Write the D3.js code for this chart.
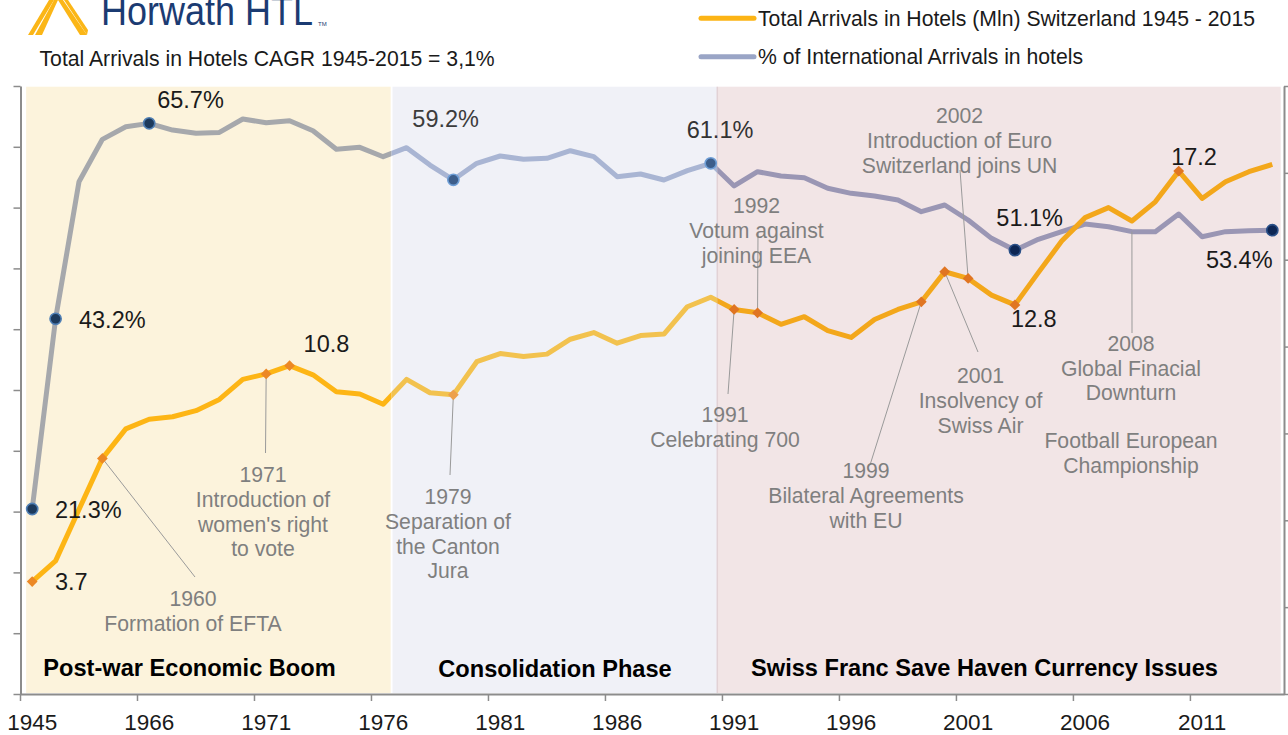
<!DOCTYPE html>
<html><head><meta charset="utf-8">
<script src="https://cdn.jsdelivr.net/npm/d3@7"></script>
<style>
body{margin:0;background:#fff;}
svg{display:block;font-family:"Liberation Sans",Arial,sans-serif;}
</style>
</head><body>
<svg id="chart" width="1288" height="735"></svg>
<script>
// ---------------- DATA ----------------
const years = [1945,1950,1955,1960,1965,1966,1967,1968,1969,1970,1971,1972,1973,1974,1975,1976,1977,1978,1979,1980,
  1981,1982,1983,1984,1985,1986,1987,1988,1989,1990,1991,1992,1993,1994,1995,1996,1997,1998,1999,2000,
  2001,2002,2003,2004,2005,2006,2007,2008,2009,2010,2011,2012,2013,2014];
// Total arrivals in hotels (Mln)
const arrivals = [3.7,4.38,6.07,7.75,8.72,9.04,9.12,9.32,9.69,10.35,10.53,10.8,10.5,9.94,9.87,9.53,10.35,9.91,9.84,10.93,
  11.2,11.1,11.18,11.67,11.89,11.54,11.79,11.84,12.74,13.05,12.65,12.54,12.16,12.41,11.95,11.73,12.32,12.65,12.9,13.89,
  13.67,13.12,12.8,13.86,14.9,15.67,16.0,15.56,16.19,17.2,16.3,16.85,17.18,17.42];
// % of international arrivals in hotels
const intlShare = [21.3,43.2,58.98,63.86,65.3,65.7,64.93,64.55,64.66,66.2,65.77,66.0,64.85,62.71,62.94,61.86,62.9,60.9,59.2,61.1,
  61.94,61.56,61.67,62.55,61.86,59.56,59.87,59.18,60.25,61.1,58.49,60.13,59.64,59.44,58.22,57.64,57.33,56.87,55.53,56.3,
  54.57,52.46,51.1,52.35,53.23,54.1,53.8,53.23,53.23,55.26,52.65,53.23,53.34,53.4];

const xTickLabels = ["1945","1966","1971","1976","1981","1986","1991","1996","2001","2006","2011"];
const leftTickValues = [0,7,14,21,28,35,42,49,56,63,70];
const rightDivisions = [0,1,2,3,4,5,6,7];

const arrivalMarkerYears = [1945,1960,1971,1972,1979,1991,1992,1999,2000,2001,2003,2010];
const shareMarkerYears = [1945,1950,1966,1979,1990,2003,2014];
const arrivalLabelYears = [1945,1972,2003,2010];
const shareLabelYears = [1945,1950,1966,1979,1990,2003,2014];

const phaseNames = ["Post-war Economic Boom","Consolidation Phase","Swiss Franc Save Haven Currency Issues"];
// phase extents in category-step units
const phaseFrom = [0.24,15.9,29.78];
const phaseTo = [15.82,29.78,53.86];

const eventTexts = [
  ["1960","Formation of EFTA"],
  ["1971","Introduction of","women's right","to vote"],
  ["1979","Separation of","the Canton","Jura"],
  ["1991","Celebrating 700"],
  ["1992","Votum against","joining EEA"],
  ["1999","Bilateral Agreements","with EU"],
  ["2001","Insolvency of","Swiss Air"],
  ["2002","Introduction of Euro","Switzerland joins UN"],
  ["2008","Global Finacial","Downturn"],
  ["Football European","Championship"]
];
const eventAnchorSeries = ["a","a","a","a","a","a","a","a","s",null];
const eventAnchorYears = [1960,1971,1979,1991,1992,1999,2000,2001,2008,null];

const legendLabels = ["Total Arrivals in Hotels (Mln) Switzerland 1945 - 2015","% of International Arrivals in hotels"];
const subtitle = "Total Arrivals in Hotels CAGR 1945-2015 = 3,1%";

// ---------------- LAYOUT / STYLE ----------------
const W = 1288, H = 735;
const plot = {left:20.5, right:1284, top:86, bottom:694};
const yellowByPhase = ["#fdb515","#f2c24f","#f3a71b"];
const blueByPhase = ["#a6a8ac","#a9b5d3","#9a96b4"];
const phaseFill = ["#fcf3dc","#f0f1f7","#f2e5e6"];
const diamondFill = ["#ec8825","#eda04c","#e07522"];
const dotFill = ["#1d3a5c","#3d5e8b","#0d2654"];
const dotStroke = ["#4f7fb5","#6e9ed6","#2b5088"];
const annColor = "#7f7f7f";

// event layout: leader end [x,y], text center x, first line y
const eventLayout = [
  {end:[195,577], tx:193, ty:599},
  {end:[265.5,453], tx:263, ty:475},
  {end:[450,475], tx:448, ty:497},
  {end:[728,394], tx:725, ty:415},
  {end:[758,233], tx:756.5, ty:206},
  {end:[870,465], tx:866, ty:471},
  {end:[978,352], tx:980.5, ty:376},
  {end:[960,170], tx:959.5, ty:116},
  {end:[1132,333], tx:1131, ty:343.5},
  {end:null, tx:1131, ty:441}
];
const lineH = 24.6;
// data label offsets from point
const arrivalLabelOffset = {1945:[22.8,0.3],1972:[14,-22.4],2003:[-4,13.4],2010:[-7.5,-14]};
const shareLabelOffset = {1945:[22.8,0.7],1950:[23.4,0.7],1966:[8,-24],1979:[-41,-60.7],1990:[-24,-33.3],2003:[-18.6,-32.8],2014:[-66.4,29.8]};
const shareLabelColor = {1979:"#3c3c3c",1990:"#333"};

// ---------------- SCALES ----------------
const svg = d3.select("#chart");
const x = d3.scaleBand().domain(years.map(String)).range([plot.left, plot.right]).padding(0);
const cx = yr => x(String(yr)) + x.bandwidth()/2;
const yL = d3.scaleLinear().domain([0,70]).range([plot.bottom, plot.top]);
const yR = d3.scaleLinear().domain([0,20]).range([plot.bottom, plot.top]);
const yRgrid = d3.scaleLinear().domain([0,7]).range([plot.bottom, plot.top]);
const stepX = u => plot.left + u * x.step();

svg.append("rect").attr("width",W).attr("height",H).attr("fill","#fff");

// phase backgrounds
const phases = phaseNames.map((n,i)=>({name:n, x0:stepX(phaseFrom[i]), x1:stepX(phaseTo[i])}));
svg.append("g").selectAll("rect").data(phases).join("rect")
  .attr("x",d=>d.x0).attr("y",plot.top+0.7).attr("width",d=>d.x1-d.x0).attr("height",plot.bottom-plot.top-1.7)
  .attr("fill",(d,i)=>phaseFill[i]);
svg.append("line").attr("x1",phases[2].x0).attr("x2",phases[2].x0).attr("y1",plot.top+0.7).attr("y2",plot.bottom-1)
  .attr("stroke","#e2d2d5").attr("stroke-width",1.5);

// clip regions
const bounds = [0,(phases[0].x1+phases[1].x0)/2, phases[2].x0, W];
const defs = svg.append("defs");
phases.forEach((p,i)=>{
  defs.append("clipPath").attr("id","clip"+i).append("rect")
    .attr("x",bounds[i]).attr("y",0).attr("width",bounds[i+1]-bounds[i]).attr("height",H);
});
const phaseOf = px => px < bounds[1] ? 0 : (px < bounds[2] ? 1 : 2);

// ---------------- AXES ----------------
const axisColor = "#8c8c8c";
const gL = svg.append("g").attr("transform",`translate(${plot.left},0)`)
  .call(d3.axisLeft(yL).tickValues(leftTickValues).tickFormat("").tickSize(7).tickSizeOuter(0));
const gR = svg.append("g").attr("transform",`translate(${plot.right},0)`)
  .call(d3.axisRight(yRgrid).tickValues(rightDivisions).tickFormat("").tickSize(6).tickSizeOuter(0));
const gB = svg.append("g").attr("transform",`translate(0,${plot.bottom})`)
  .call(d3.axisBottom(x).tickValues(xTickLabels).tickSize(0).tickSizeOuter(0).tickPadding(28.5));
[gL,gR,gB].forEach(g=>{
  g.select(".domain").attr("stroke",axisColor).attr("stroke-width",2);
  g.selectAll(".tick line").attr("stroke",axisColor).attr("stroke-width",1.5);
});
gB.selectAll(".tick text").attr("font-size","22.5px").attr("fill","#1a1a1a")
  .attr("font-family","'Liberation Sans',Arial,sans-serif").attr("dy","0.35em");
gB.selectAll(".tickmark").data(xTickLabels).join("line").attr("class","tickmark")
  .attr("x1",d=>x(d)).attr("x2",d=>x(d)).attr("y1",0).attr("y2",7)
  .attr("stroke",axisColor).attr("stroke-width",1.5);

// ---------------- LINES ----------------
const lineA = d3.line().x((d,i)=>cx(years[i])).y(d=>yR(d));
const lineS = d3.line().x((d,i)=>cx(years[i])).y(d=>yL(d));
phases.forEach((p,i)=>{
  svg.append("path").attr("d",lineS(intlShare)).attr("fill","none")
    .attr("stroke",blueByPhase[i]).attr("stroke-width",5).attr("stroke-linejoin","round")
    .attr("clip-path",`url(#clip${i})`);
  svg.append("path").attr("d",lineA(arrivals)).attr("fill","none")
    .attr("stroke",yellowByPhase[i]).attr("stroke-width",5).attr("stroke-linejoin","round")
    .attr("clip-path",`url(#clip${i})`);
});

// ---------------- ANNOTATION LEADERS ----------------
const ann = svg.append("g");
eventTexts.forEach((lines,k)=>{
  const L = eventLayout[k];
  if (eventAnchorYears[k] !== null) {
    const yr = eventAnchorYears[k];
    const idx = years.indexOf(yr);
    const px = cx(yr);
    const py = eventAnchorSeries[k]==="a" ? yR(arrivals[idx]) : yL(intlShare[idx]);
    ann.append("line").attr("x1",px).attr("y1",py).attr("x2",L.end[0]).attr("y2",L.end[1])
      .attr("stroke","#9a9a9a").attr("stroke-width",1);
  }
});

// ---------------- MARKERS ----------------
svg.append("g").selectAll("path").data(arrivalMarkerYears).join("path")
  .attr("transform",d=>`translate(${cx(d)},${yR(arrivals[years.indexOf(d)])}) rotate(45)`)
  .attr("d",d3.symbol().type(d3.symbolSquare).size(58))
  .attr("fill",d=>diamondFill[phaseOf(cx(d))]);
svg.append("g").selectAll("circle").data(shareMarkerYears).join("circle")
  .attr("cx",d=>cx(d)).attr("cy",d=>yL(intlShare[years.indexOf(d)])).attr("r",5.6)
  .attr("fill",d=>dotFill[phaseOf(cx(d))])
  .attr("stroke",d=>dotStroke[phaseOf(cx(d))]).attr("stroke-width",1.6);

// ---------------- DATA LABELS ----------------
const lbl = svg.append("g").attr("font-size","23.5px");
arrivalLabelYears.forEach(yr=>{
  const i = years.indexOf(yr), o = arrivalLabelOffset[yr];
  lbl.append("text").attr("x",cx(yr)+o[0]).attr("y",yR(arrivals[i])+o[1]).attr("dy","0.35em")
    .attr("fill","#1a1a1a").text(arrivals[i].toFixed(1));
});
shareLabelYears.forEach(yr=>{
  const i = years.indexOf(yr), o = shareLabelOffset[yr];
  lbl.append("text").attr("x",cx(yr)+o[0]).attr("y",yL(intlShare[i])+o[1]).attr("dy","0.35em")
    .attr("fill",shareLabelColor[yr]||"#1a1a1a").text(intlShare[i].toFixed(1)+"%");
});

// ---------------- ANNOTATION TEXT ----------------
const annT = svg.append("g").attr("font-size","21.2px").attr("fill",annColor).attr("text-anchor","middle");
eventTexts.forEach((lines,k)=>{
  const L = eventLayout[k];
  lines.forEach((t,j)=>{
    annT.append("text").attr("x",L.tx).attr("y",L.ty+j*lineH).attr("dy","0.35em").text(t);
  });
});

// phase titles
const phaseLabelPos = [[189.5,668],[555,669],[984.5,668]];
svg.append("g").selectAll("text").data(phases).join("text")
  .attr("x",(d,i)=>phaseLabelPos[i][0]).attr("y",(d,i)=>phaseLabelPos[i][1]).attr("dy","0.35em")
  .attr("text-anchor","middle").attr("font-weight","bold").attr("font-size","23.6px").attr("fill","#000")
  .text(d=>d.name);

// ---------------- HEADER ----------------
// logo
const logo = svg.append("g");
logo.append("path").attr("d","M28,35 L33,35 L54,0 L49,0 Z").attr("fill","#fbb617");
logo.append("path").attr("d","M35,35 L42,35 L58,0 L54,0 Z").attr("fill","#fbb617");
logo.append("path").attr("d","M58,0 L63,0 L87,35 L80,35 Z").attr("fill","#fbb617");
logo.append("path").attr("d","M64,0 L68,0 L88,30 L87,35 Z").attr("fill","#fbb617");
logo.append("text").attr("x",101).attr("y",25).attr("font-size","40px").attr("fill","#1b3b72")
  .attr("textLength",212).attr("lengthAdjust","spacingAndGlyphs").text("Horwath HTL");
logo.append("text").attr("x",318).attr("y",26).attr("font-size","6px").attr("fill","#1b3b72").text("TM");

svg.append("text").attr("x",39.5).attr("y",58.3).attr("dy","0.35em").attr("font-size","21.2px")
  .attr("fill","#1a1a1a").text(subtitle);

// legend
const legColors = ["#fcb415","#9aa5c6"];
const leg = svg.append("g");
legendLabels.forEach((t,i)=>{
  const ly = [18.3,56.7][i];
  leg.append("line").attr("x1",701).attr("x2",754).attr("y1",ly).attr("y2",ly)
    .attr("stroke",legColors[i]).attr("stroke-width",5).attr("stroke-linecap","round");
  leg.append("text").attr("x",758).attr("y",ly).attr("dy","0.35em").attr("font-size","21.2px")
    .attr("fill","#1a1a1a").text(t);
});
</script>
</body></html>
